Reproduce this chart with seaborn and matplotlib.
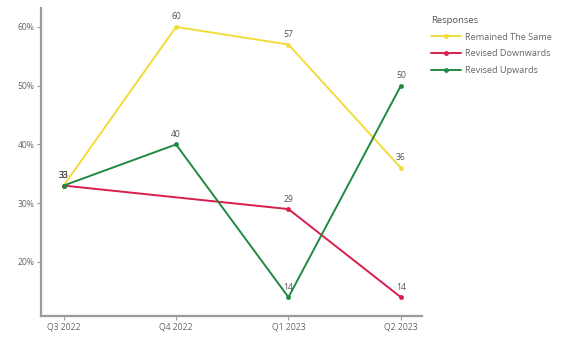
import numpy as np
import pandas as pd
import matplotlib
matplotlib.use("Agg")
import matplotlib.pyplot as plt
import seaborn as sns

quarters = ["Q3 2022", "Q4 2022", "Q1 2023", "Q2 2023"]
responses = ["Remained The Same", "Revised Downwards", "Revised Upwards"]

remained_quarters = ["Q3 2022", "Q4 2022", "Q1 2023", "Q2 2023"]
remained_values = [33, 60, 57, 36]
down_quarters = ["Q3 2022", "Q1 2023", "Q2 2023"]
down_values = [33, 29, 14]
up_quarters = ["Q3 2022", "Q4 2022", "Q1 2023", "Q2 2023"]
up_values = [33, 40, 14, 50]

y_ticks = [20, 30, 40, 50, 60]
colors = ["#F2DC3A", "#D81E4B", "#1F8A40"]

frames = []
for name, qs, vals in [
    (responses[0], remained_quarters, remained_values),
    (responses[1], down_quarters, down_values),
    (responses[2], up_quarters, up_values),
]:
    frames.append(pd.DataFrame({
        "Responses": name,
        "quarter": qs,
        "pos": [quarters.index(q) for q in qs],
        "value": vals,
    }))
df = pd.concat(frames, ignore_index=True)

sns.set_theme(style="white")
plt.rcParams["font.family"] = ["Open Sans", "DejaVu Sans"]

fig = plt.figure(figsize=(5.63, 3.38), dpi=100)
ax = fig.add_axes([0.073, 0.065, 0.677, 0.911])

sns.lineplot(
    data=df, x="pos", y="value", hue="Responses", hue_order=responses,
    palette=colors, marker="o", markersize=3.5, markeredgewidth=0,
    linewidth=1.4, ax=ax, sort=False, estimator=None,
)

for _, row in df.iterrows():
    ax.annotate(f"{row['value']}", (row["pos"], row["value"]),
                xytext=(0, 4), textcoords="offset points",
                ha="center", va="bottom", fontsize=6.2, color="#555555")

ax.set_xlim(-0.2, 3.19)
ax.set_ylim(10.8, 63.2)
ax.set_xticks(range(len(quarters)))
ax.set_xticklabels(quarters)
ax.set_yticks(y_ticks)
ax.set_yticklabels([f"{t}%" for t in y_ticks])
ax.set_xlabel("")
ax.set_ylabel("")

for side in ["top", "right"]:
    ax.spines[side].set_visible(False)
for side in ["left", "bottom"]:
    ax.spines[side].set_color("#9a9a9a")
    ax.spines[side].set_linewidth(1.6)
ax.tick_params(axis="both", which="both", length=3, width=0.8, color="#9a9a9a",
               labelsize=6.2, labelcolor="#666666", pad=2, left=True, bottom=True)

leg = ax.legend(title="Responses", loc="upper left",
                bbox_to_anchor=(0.765, 0.953), bbox_transform=fig.transFigure,
                frameon=False, fontsize=6.6, title_fontsize=6.8,
                handlelength=3.3, handletextpad=0.4, labelspacing=0.85,
                borderaxespad=0, borderpad=0)
leg._legend_box.align = "left"
for t in leg.get_texts():
    t.set_color("#666666")
leg.get_title().set_color("#555555")

fig.savefig("out.png", dpi=100, facecolor="white")
